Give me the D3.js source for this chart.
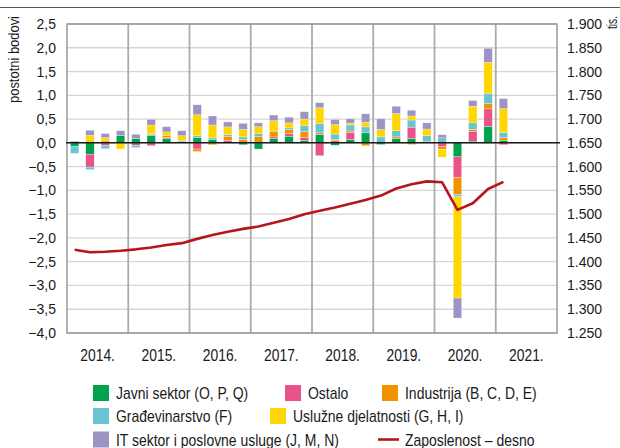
<!DOCTYPE html>
<html>
<head>
<meta charset="utf-8">
<script src="https://cdn.jsdelivr.net/npm/d3@7/dist/d3.min.js"></script>
<style>
  html, body { margin: 0; padding: 0; background: #fff; }
  svg { display: block; }
  .tick-l, .tick-r { font-family: "Liberation Sans", Arial, sans-serif; font-size: 14px; fill: #1a1a1a; }
  .narrow { font-family: "Liberation Sans", Arial, sans-serif; fill: #1a1a1a; }
</style>
</head>
<body>
<svg id="chart" width="620" height="448"></svg>
<script>
// ---------- DATA ----------
const years = [2014, 2015, 2016, 2017, 2018, 2019, 2020, 2021];
const yearLabels = ["2014.", "2015.", "2016.", "2017.", "2018.", "2019.", "2020.", "2021."];
const quarterNames = ["Q1", "Q2", "Q3", "Q4"];

// percentage points, 2014Q1 .. 2021Q1
const javniSektor = [-0.07, -0.24, 0, 0.15, 0.09, 0.15, 0.09, 0, 0.11, 0.07, 0, -0.04, -0.13, 0.09, 0.14, 0.055, 0.18, -0.05, 0.07, 0.21, -0.035, 0.09, 0.09, 0, 0, -0.295, 0.035, 0.35, 0.055];
const ostalo      = [0, -0.27, -0.055, 0, -0.05, -0.06, 0.02, 0.02, -0.13, 0, 0.055, 0, 0, 0.035, 0.055, 0.055, -0.27, 0.045, 0.15, 0, 0, 0, 0.24, 0, -0.07, -0.44, 0.21, 0.365, -0.04];
const industrija  = [0, 0, 0.04, 0, 0, 0.02, 0.04, 0, -0.05, -0.04, 0.085, 0.07, 0.13, 0.12, 0.085, 0.125, 0.03, 0.03, 0.03, -0.06, 0, 0.035, -0.035, 0.03, -0.07, -0.35, 0.04, 0.11, 0.06];
const gradevinarstvo = [-0.15, -0.055, -0.07, 0, -0.05, 0.03, 0, 0.03, 0.04, 0.035, 0.035, 0.055, 0.07, 0, 0.035, 0.125, 0.2, 0.11, 0.125, 0.125, 0.125, 0.13, 0.15, 0.12, 0.105, -0.05, 0.135, 0.21, 0.105];
const usluzne     = [0, 0.16, 0.07, -0.13, 0, 0.175, 0.08, 0.1, 0.44, 0.27, 0.16, 0.155, 0.14, 0.22, 0.105, 0.14, 0.33, 0.2, 0.04, 0.1, 0.155, 0.36, 0.085, 0.14, -0.16, -2.13, 0.35, 0.66, 0.5];
const itSektor    = [0.035, 0.105, 0.085, 0.105, 0.09, 0.12, 0.11, 0.105, 0.21, 0.19, 0.105, 0.13, 0.08, 0.12, 0.12, 0.155, 0.105, 0.105, 0.09, 0.175, 0.225, 0.155, 0.12, 0.13, 0.065, -0.42, 0.12, 0.295, 0.21];
// employment, thousands (right axis)
const zaposlenost = [1425, 1420, 1421, 1423, 1426, 1430, 1435, 1439, 1448, 1456, 1463, 1469, 1474, 1482, 1490, 1500, 1507, 1514, 1522, 1530, 1539, 1554, 1563, 1569, 1567, 1509, 1523, 1553, 1568];

const leftTicks = [2.5, 2, 1.5, 1, 0.5, 0, -0.5, -1, -1.5, -2, -2.5, -3, -3.5, -4];
const rightTicks = [1900, 1850, 1800, 1750, 1700, 1650, 1600, 1550, 1500, 1450, 1400, 1350, 1300, 1250];

const seriesKeys = ["javni", "ostalo", "industrija", "gradevinarstvo", "usluzne", "it"];
const seriesNames = ["Javni sektor (O, P, Q)", "Ostalo", "Industrija (B, C, D, E)", "Građevinarstvo (F)", "Uslužne djelatnosti (G, H, I)", "IT sektor i poslovne usluge (J, M, N)"];
const seriesColors = ["#00a24b", "#e8538a", "#f39200", "#68c3d3", "#ffd600", "#9d93c6"];
const lineName = "Zaposlenost – desno";
const lineColor = "#b5161e";

// ---------- LAYOUT ----------
const svg = d3.select("#chart");
const L = 67, R = 557, T = 24, B = 333;

const quarters = years.flatMap(y => quarterNames.map(q => y + q));
const seriesArrays = [javniSektor, ostalo, industrija, gradevinarstvo, usluzne, itSektor];
const rows = zaposlenost.map((v, i) => {
  const r = { q: quarters[i], emp: v };
  seriesKeys.forEach((k, j) => r[k] = seriesArrays[j][i]);
  return r;
});

const x = d3.scaleBand().domain(quarters).range([L, R]).paddingInner(0.45).paddingOuter(0.225);
const yL = d3.scaleLinear().domain([-4, 2.5]).range([B, T]);
const yR = d3.scaleLinear().domain([1250, 1900]).range([B, T]);
const xYear = d3.scaleBand().domain(years).range([L, R]);

// condense text horizontally (emulates a narrow typeface)
function condense(sel, factor) {
  sel.each(function () {
    const w = this.getComputedTextLength();
    d3.select(this).attr("textLength", w * factor).attr("lengthAdjust", "spacingAndGlyphs");
  });
}

// top rule
svg.append("line").attr("x1", 0).attr("x2", 620).attr("y1", 7.5).attr("y2", 7.5)
  .attr("stroke", "#555").attr("stroke-width", 1);

// horizontal gridlines
svg.append("g").selectAll("line").data(leftTicks).join("line")
  .attr("x1", L).attr("x2", R)
  .attr("y1", d => yL(d)).attr("y2", d => yL(d))
  .attr("stroke", "#d6d6d6").attr("stroke-width", 1.3);

// vertical year lines
svg.append("g").selectAll("line").data(years.slice(1)).join("line")
  .attr("x1", d => xYear(d)).attr("x2", d => xYear(d))
  .attr("y1", T).attr("y2", B)
  .attr("stroke", "#acacac").attr("stroke-width", 1.8);

// frame
svg.append("rect").attr("x", L).attr("y", T).attr("width", R - L).attr("height", B - T)
  .attr("fill", "none").attr("stroke", "#8a8a8a").attr("stroke-width", 1.3);

// bars
const stack = d3.stack().keys(seriesKeys).offset(d3.stackOffsetDiverging);
const stacked = stack(rows);
svg.append("g").selectAll("g").data(stacked).join("g")
  .attr("fill", (d, i) => seriesColors[i])
  .selectAll("rect").data(d => d).join("rect")
  .attr("x", d => x(d.data.q))
  .attr("width", x.bandwidth())
  .attr("y", d => yL(Math.max(d[0], d[1])))
  .attr("height", d => Math.abs(yL(d[0]) - yL(d[1])))
  .attr("stroke", "#fff").attr("stroke-width", 0.4).attr("stroke-opacity", 0.7);

// zero line
svg.append("line").attr("x1", L - 1).attr("x2", R + 3).attr("y1", yL(0)).attr("y2", yL(0))
  .attr("stroke", "#1a1a1a").attr("stroke-width", 1.5);

// employment line
const line = d3.line().x(d => x(d.q) + x.bandwidth() / 2).y(d => yR(d.emp));
svg.append("path").datum(rows).attr("d", line)
  .attr("fill", "none").attr("stroke", lineColor).attr("stroke-width", 2.6)
  .attr("stroke-linejoin", "round");

// left axis
const fmtL = v => (v < 0 ? "\u2212" : "") + d3.format(".1f")(Math.abs(v)).replace(".", ",");
const axL = d3.axisLeft(yL).tickValues(leftTicks).tickFormat(fmtL).tickSize(0).tickPadding(11);
const gL = svg.append("g").attr("transform", `translate(${L},0)`).call(axL);
gL.select(".domain").remove();
gL.selectAll("text").attr("class", "tick-l").attr("font-family", null).attr("font-size", null).attr("fill", null);

// right axis
const fmtR = v => String(v).replace(/^(\d)(\d{3})$/, "$1.$2");
const axR = d3.axisRight(yR).tickValues(rightTicks).tickFormat(fmtR).tickSize(0).tickPadding(10);
const gR = svg.append("g").attr("transform", `translate(${R},0)`).call(axR);
gR.select(".domain").remove();
gR.selectAll("text").attr("class", "tick-r").attr("font-family", null).attr("font-size", null).attr("fill", null);

// year labels
const yl = svg.append("g").selectAll("text").data(years).join("text")
  .attr("class", "narrow").attr("font-size", 16.5)
  .attr("x", d => xYear(d) + xYear.bandwidth() / 2).attr("y", 361)
  .attr("text-anchor", "middle")
  .text((d, i) => yearLabels[i]);
condense(yl, 0.84);

// axis titles
svg.append("text").attr("class", "narrow").attr("font-size", 14.5)
  .attr("transform", "translate(19,103) rotate(-90)")
  .attr("textLength", 87).attr("lengthAdjust", "spacingAndGlyphs")
  .text("postotni bodovi");
svg.append("text").attr("class", "narrow").attr("font-size", 14.5)
  .attr("transform", "translate(617,29) rotate(-90)")
  .attr("textLength", 13).attr("lengthAdjust", "spacingAndGlyphs")
  .text("tis.");

// legend
const legendPos = [
  { x: 93, y: 385 }, { x: 285, y: 385 }, { x: 382, y: 385 },
  { x: 93, y: 408 }, { x: 270, y: 408 },
  { x: 93, y: 431.5 }
];
const lg = svg.append("g");
seriesNames.forEach((name, i) => {
  const p = legendPos[i];
  lg.append("rect").attr("x", p.x).attr("y", p.y).attr("width", 16).attr("height", 16).attr("fill", seriesColors[i]);
  const t = lg.append("text").attr("class", "narrow").attr("font-size", 17)
    .attr("x", p.x + 23).attr("y", p.y + 14).text(name);
  condense(t, 0.82);
});
lg.append("line").attr("x1", 378).attr("x2", 399).attr("y1", 439.5).attr("y2", 439.5)
  .attr("stroke", lineColor).attr("stroke-width", 2.6);
const lt = lg.append("text").attr("class", "narrow").attr("font-size", 17)
  .attr("x", 405).attr("y", 445.5).text(lineName);
condense(lt, 0.82);
</script>
</body>
</html>
